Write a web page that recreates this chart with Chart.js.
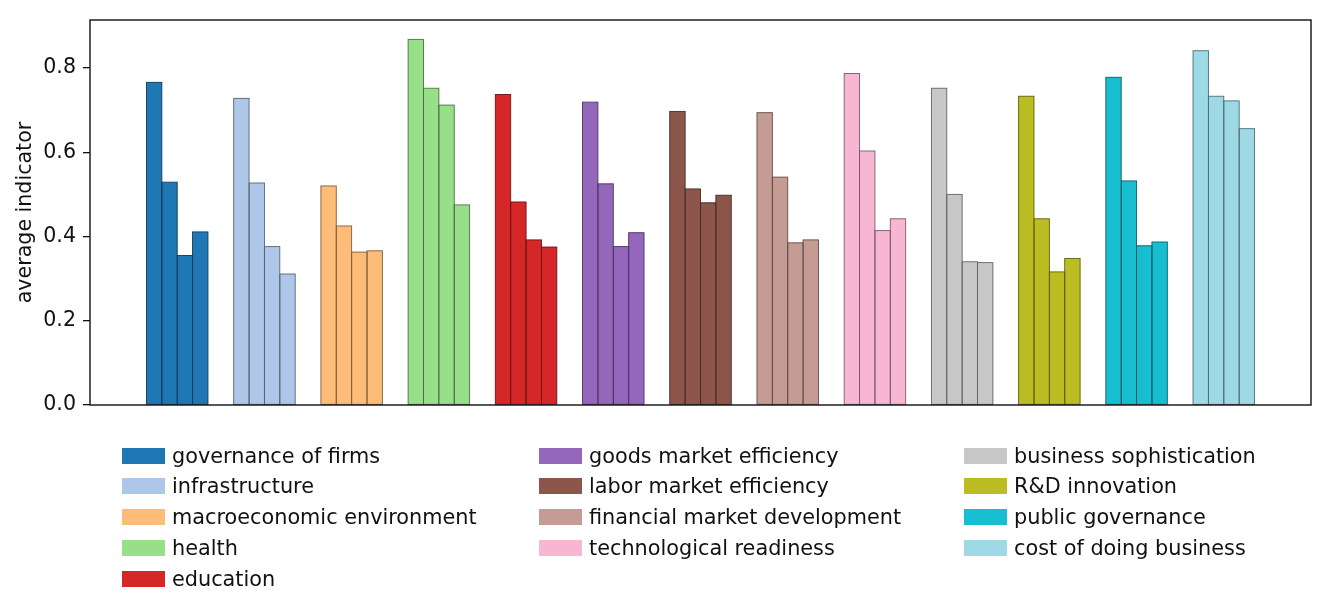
<!DOCTYPE html>
<html>
<head>
<meta charset="utf-8">
<script src="https://cdn.jsdelivr.net/npm/chart.js@4/dist/chart.umd.min.js"></script>
<style>
  html, body { margin: 0; padding: 0; background: #fff; }
  #wrap { position: relative; width: 1334px; height: 615px; overflow: hidden; }
  #chart { position: absolute; left: 0; top: 0; }
  .legend-item { position: absolute; height: 31px; display: flex; align-items: center;
    font-family: "DejaVu Sans", sans-serif; font-size: 20.8px; color: #111; white-space: nowrap; }
  .legend-item span.box { display: inline-block; width: 43px; height: 16px; margin-right: 7px; }
</style>
</head>
<body>
<div id="wrap">
  <canvas id="chart" width="1334" height="615"></canvas>
  <div id="legend"></div>
</div>
<script>
  const categories = [
    'governance of firms', 'infrastructure', 'macroeconomic environment', 'health', 'education',
    'goods market efficiency', 'labor market efficiency', 'financial market development',
    'technological readiness', 'business sophistication', 'R&D innovation', 'public governance',
    'cost of doing business'
  ];

  const colors = [
    '#1f77b4', '#aec7e8', '#ffbb78', '#98df8a', '#d62728', '#9467bd', '#8c564b',
    '#c49c94', '#f7b6d2', '#c7c7c7', '#bcbd22', '#17becf', '#9edae5'
  ];

  // four bars per category, left to right
  const bar1 = [0.766, 0.728, 0.520, 0.868, 0.737, 0.719, 0.697, 0.694, 0.787, 0.752, 0.733, 0.778, 0.841];
  const bar2 = [0.529, 0.527, 0.425, 0.752, 0.482, 0.525, 0.513, 0.541, 0.603, 0.500, 0.442, 0.532, 0.733];
  const bar3 = [0.355, 0.376, 0.363, 0.712, 0.392, 0.376, 0.480, 0.385, 0.414, 0.340, 0.316, 0.378, 0.722];
  const bar4 = [0.411, 0.311, 0.366, 0.475, 0.375, 0.409, 0.498, 0.392, 0.442, 0.338, 0.348, 0.387, 0.656];

  const yTicks = [0.0, 0.2, 0.4, 0.6, 0.8];

  // edge colour = fill half mixed with black
  function darken(hex) {
    const n = parseInt(hex.slice(1), 16);
    const r = (n >> 16) & 255, g = (n >> 8) & 255, b = n & 255;
    return 'rgb(' + Math.round(r * 0.5) + ',' + Math.round(g * 0.5) + ',' + Math.round(b * 0.5) + ')';
  }

  // empty slot at both ends leaves a full group of space next to the frame
  const labels = ['', ...categories, ''];
  const pad = arr => [null, ...arr, null];
  const barColors = ['#fff', ...colors, '#fff'];
  const edgeColors = barColors.map(darken);

  const datasets = [bar1, bar2, bar3, bar4].map((vals, i) => ({
    label: 'bar ' + (i + 1),
    data: pad(vals),
    backgroundColor: barColors,
    borderWidth: 0,
    inflateAmount: 0,
    categoryPercentage: 0.705,
    barPercentage: 1.0
  }));

  // thin edges centred on each bar outline (matplotlib style)
  const barEdges = {
    id: 'barEdges',
    afterDatasetsDraw(chart) {
      const ctx = chart.ctx;
      ctx.save();
      ctx.lineWidth = 0.9;
      chart.data.datasets.forEach((ds, di) => {
        chart.getDatasetMeta(di).data.forEach((bar, j) => {
          if (ds.data[j] == null) return;
          const { x, y, base, width } = bar.getProps(['x', 'y', 'base', 'width'], true);
          ctx.strokeStyle = edgeColors[j];
          ctx.strokeRect(x - width / 2, y, width, base - y);
        });
      });
      ctx.restore();
    }
  };

  // frame around the plot area
  const frame = {
    id: 'frame',
    afterDraw(chart) {
      const { ctx, chartArea: a } = chart;
      ctx.save();
      ctx.strokeStyle = '#111';
      ctx.lineWidth = 1.4;
      ctx.strokeRect(a.left, a.top, a.right - a.left, a.bottom - a.top);
      ctx.restore();
    }
  };

  Chart.defaults.font.family = '"DejaVu Sans", sans-serif';
  Chart.defaults.color = '#111';

  new Chart(document.getElementById('chart'), {
    type: 'bar',
    data: { labels, datasets },
    plugins: [barEdges, frame],
    options: {
      responsive: false,
      animation: false,
      layout: { padding: { left: 0, right: 23, top: 20, bottom: 210 } },
      plugins: { legend: { display: false }, tooltip: { enabled: false } },
      scales: {
        x: {
          offset: false,
          grid: { display: false },
          border: { display: false },
          ticks: { display: false },
          afterFit: s => { s.height = 0; }
        },
        y: {
          min: 0,
          max: 0.914,
          afterBuildTicks: s => { s.ticks = yTicks.map(v => ({ value: v })); },
          afterFit: s => { s.width = 90; },
          grid: { drawOnChartArea: false, drawTicks: true, tickLength: 7, color: '#111', lineWidth: 1.3 },
          border: { display: false },
          ticks: {
            padding: 7,
            font: { size: 20.6 },
            callback: v => Number(v).toFixed(1)
          },
          title: {
            display: true,
            text: 'average indicator',
            font: { size: 20.6 },
            padding: { top: 13, bottom: 0 }
          }
        }
      }
    }
  });

  // legend laid out in three columns like the original
  const legendCols = [[0, 1, 2, 3, 4], [5, 6, 7, 8], [9, 10, 11, 12]];
  const colLeft = [122, 539, 964];
  const legend = document.getElementById('legend');
  legendCols.forEach((col, c) => {
    col.forEach((idx, r) => {
      const item = document.createElement('div');
      item.className = 'legend-item';
      item.style.left = colLeft[c] + 'px';
      item.style.top = (440 + r * 30.75) + 'px';
      item.innerHTML = '<span class="box" style="background:' + colors[idx] + '"></span>';
      item.appendChild(document.createTextNode(categories[idx]));
      legend.appendChild(item);
    });
  });
</script>
</body>
</html>
